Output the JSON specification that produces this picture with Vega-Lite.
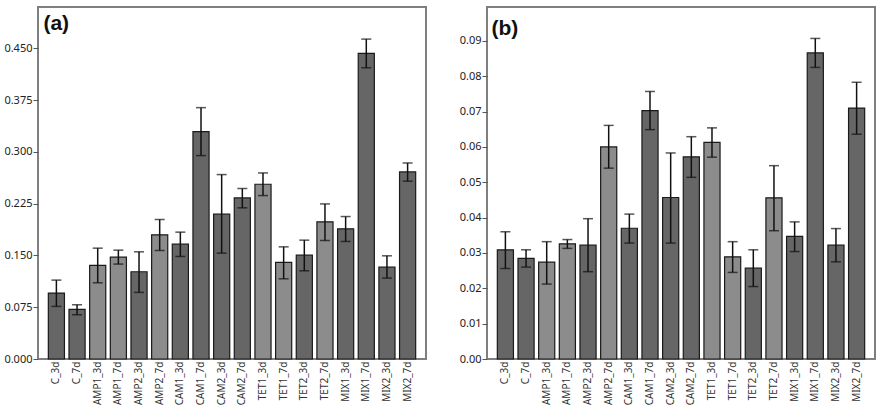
{
  "$schema": "https://vega.github.io/schema/vega-lite/v6.json",
  "padding": {"left": 2, "top": 6, "right": 6, "bottom": 0},
  "spacing": 31,
  "config": {
    "view": {"stroke": "#7f7f7f", "strokeWidth": 2},
    "font": "Noto Sans",
    "axis": {"labelFont": "Noto Sans", "labelFontSize": 11, "labelColor": "#222222", "grid": false, "domain": false, "labelOverlap": false}
  },
  "datasets": {
    "a": [
      {"g": "C_3d", "v": 0.0955, "lo": 0.0762, "hi": 0.1143},
      {"g": "C_7d", "v": 0.0719, "lo": 0.0641, "hi": 0.0786},
      {"g": "AMP1_3d", "v": 0.1356, "lo": 0.1104, "hi": 0.1606},
      {"g": "AMP1_7d", "v": 0.1476, "lo": 0.1375, "hi": 0.1577},
      {"g": "AMP2_3d", "v": 0.1264, "lo": 0.0965, "hi": 0.1553},
      {"g": "AMP2_7d", "v": 0.1799, "lo": 0.1572, "hi": 0.2021},
      {"g": "CAM1_3d", "v": 0.1664, "lo": 0.1486, "hi": 0.1838},
      {"g": "CAM1_7d", "v": 0.3295, "lo": 0.2947, "hi": 0.3642},
      {"g": "CAM2_3d", "v": 0.2098, "lo": 0.1534, "hi": 0.2672},
      {"g": "CAM2_7d", "v": 0.2334, "lo": 0.2190, "hi": 0.2470},
      {"g": "TET1_3d", "v": 0.2532, "lo": 0.2368, "hi": 0.2696},
      {"g": "TET1_7d", "v": 0.1399, "lo": 0.1162, "hi": 0.1625},
      {"g": "TET2_3d", "v": 0.1505, "lo": 0.1278, "hi": 0.1722},
      {"g": "TET2_7d", "v": 0.1987, "lo": 0.1717, "hi": 0.2247},
      {"g": "MIX1_3d", "v": 0.1886, "lo": 0.1703, "hi": 0.2064},
      {"g": "MIX1_7d", "v": 0.4428, "lo": 0.4220, "hi": 0.4635},
      {"g": "MIX2_3d", "v": 0.1331, "lo": 0.1172, "hi": 0.1495},
      {"g": "MIX2_7d", "v": 0.2710, "lo": 0.2576, "hi": 0.2840}
    ],
    "b": [
      {"g": "C_3d", "v": 0.0309, "lo": 0.0256, "hi": 0.0360},
      {"g": "C_7d", "v": 0.0285, "lo": 0.0260, "hi": 0.0309},
      {"g": "AMP1_3d", "v": 0.0274, "lo": 0.0212, "hi": 0.0332},
      {"g": "AMP1_7d", "v": 0.0326, "lo": 0.0313, "hi": 0.0338},
      {"g": "AMP2_3d", "v": 0.0322, "lo": 0.0247, "hi": 0.0397},
      {"g": "AMP2_7d", "v": 0.0600, "lo": 0.0540, "hi": 0.0661},
      {"g": "CAM1_3d", "v": 0.0370, "lo": 0.0328, "hi": 0.0410},
      {"g": "CAM1_7d", "v": 0.0703, "lo": 0.0649, "hi": 0.0757},
      {"g": "CAM2_3d", "v": 0.0457, "lo": 0.0328, "hi": 0.0583},
      {"g": "CAM2_7d", "v": 0.0572, "lo": 0.0514, "hi": 0.0629},
      {"g": "TET1_3d", "v": 0.0613, "lo": 0.0571, "hi": 0.0654},
      {"g": "TET1_7d", "v": 0.0289, "lo": 0.0245, "hi": 0.0332},
      {"g": "TET2_3d", "v": 0.0257, "lo": 0.0205, "hi": 0.0309},
      {"g": "TET2_7d", "v": 0.0456, "lo": 0.0363, "hi": 0.0547},
      {"g": "MIX1_3d", "v": 0.0347, "lo": 0.0304, "hi": 0.0388},
      {"g": "MIX1_7d", "v": 0.0866, "lo": 0.0825, "hi": 0.0907},
      {"g": "MIX2_3d", "v": 0.0322, "lo": 0.0275, "hi": 0.0369},
      {"g": "MIX2_7d", "v": 0.0710, "lo": 0.0636, "hi": 0.0783}
    ]
  },
  "hconcat": [
    {
      "width": 388,
      "height": 352,
      "data": {"name": "a"},
      "encoding": {
        "x": {"field": "g", "type": "nominal", "sort": null,
          "scale": {"paddingInner": 0.22, "paddingOuter": 0.5},
          "axis": {"title": null, "labelAngle": -90, "ticks": false, "labelPadding": 2, "labelFontSize": 10, "labelColor": "#333333"}}
      },
      "layer": [
        {
          "mark": {"type": "bar", "stroke": "#1a1a1a", "strokeWidth": 1.2},
          "encoding": {
            "y": {"field": "v", "type": "quantitative",
              "scale": {"domain": [0, 0.51], "nice": false},
              "axis": {"title": null, "values": [0, 0.075, 0.15, 0.225, 0.3, 0.375, 0.45], "format": ".3f", "tickColor": "#555555", "tickSize": 5, "labelPadding": 1}},
            "fill": {"condition": {"test": "indexof(['AMP1_3d','AMP1_7d','AMP2_7d','TET1_3d','TET1_7d','TET2_7d'], datum.g) >= 0", "value": "#8c8c8c"}, "value": "#666666"}
          }
        },
        {
          "mark": {"type": "rule", "color": "#111111", "strokeWidth": 1.5},
          "encoding": {"y": {"field": "lo", "type": "quantitative"}, "y2": {"field": "hi"}}
        },
        {
          "mark": {"type": "tick", "color": "#111111", "thickness": 1.5, "size": 10, "orient": "horizontal"},
          "encoding": {"y": {"field": "lo", "type": "quantitative"}}
        },
        {
          "mark": {"type": "tick", "color": "#111111", "thickness": 1.5, "size": 10, "orient": "horizontal"},
          "encoding": {"y": {"field": "hi", "type": "quantitative"}}
        },
        {
          "data": {"values": [{"label": "(a)"}]},
          "mark": {"type": "text", "font": "Liberation Sans", "fontWeight": "bold", "fontSize": 21, "align": "left", "baseline": "middle", "dx": -13, "color": "#111111"},
          "encoding": {"x": {"datum": "C_3d"}, "y": {"datum": 0.486}, "text": {"field": "label"}}
        }
      ]
    },
    {
      "width": 388,
      "height": 352,
      "data": {"name": "b"},
      "encoding": {
        "x": {"field": "g", "type": "nominal", "sort": null,
          "scale": {"paddingInner": 0.22, "paddingOuter": 0.5},
          "axis": {"title": null, "labelAngle": -90, "ticks": false, "labelPadding": 2, "labelFontSize": 10, "labelColor": "#333333"}}
      },
      "layer": [
        {
          "mark": {"type": "bar", "stroke": "#1a1a1a", "strokeWidth": 1.2},
          "encoding": {
            "y": {"field": "v", "type": "quantitative",
              "scale": {"domain": [0, 0.0996], "nice": false},
              "axis": {"title": null, "values": [0, 0.01, 0.02, 0.03, 0.04, 0.05, 0.06, 0.07, 0.08, 0.09], "tickCount": 10, "format": ".2f", "tickColor": "#555555", "tickSize": 5, "labelPadding": 1, "labelOverlap": false}},
            "fill": {"condition": {"test": "indexof(['AMP1_3d','AMP1_7d','AMP2_7d','TET1_3d','TET1_7d','TET2_7d'], datum.g) >= 0", "value": "#8c8c8c"}, "value": "#666666"}
          }
        },
        {
          "mark": {"type": "rule", "color": "#111111", "strokeWidth": 1.5},
          "encoding": {"y": {"field": "lo", "type": "quantitative", "axis": {"title": null, "values": [0, 0.01, 0.02, 0.03, 0.04, 0.05, 0.06, 0.07, 0.08, 0.09], "tickCount": 10, "format": ".2f", "tickColor": "#555555", "tickSize": 5, "labelPadding": 1, "labelOverlap": false}}, "y2": {"field": "hi"}}
        },
        {
          "mark": {"type": "tick", "color": "#111111", "thickness": 1.5, "size": 10, "orient": "horizontal"},
          "encoding": {"y": {"field": "lo", "type": "quantitative", "axis": {"title": null, "values": [0, 0.01, 0.02, 0.03, 0.04, 0.05, 0.06, 0.07, 0.08, 0.09], "tickCount": 10, "format": ".2f", "tickColor": "#555555", "tickSize": 5, "labelPadding": 1, "labelOverlap": false}}}
        },
        {
          "mark": {"type": "tick", "color": "#111111", "thickness": 1.5, "size": 10, "orient": "horizontal"},
          "encoding": {"y": {"field": "hi", "type": "quantitative", "axis": {"title": null, "values": [0, 0.01, 0.02, 0.03, 0.04, 0.05, 0.06, 0.07, 0.08, 0.09], "tickCount": 10, "format": ".2f", "tickColor": "#555555", "tickSize": 5, "labelPadding": 1, "labelOverlap": false}}}
        },
        {
          "data": {"values": [{"label": "(b)"}]},
          "mark": {"type": "text", "font": "Liberation Sans", "fontWeight": "bold", "fontSize": 21, "align": "left", "baseline": "middle", "dx": -14, "color": "#111111"},
          "encoding": {"x": {"datum": "C_3d"}, "y": {"datum": 0.0935}, "text": {"field": "label"}}
        }
      ]
    }
  ]
}
